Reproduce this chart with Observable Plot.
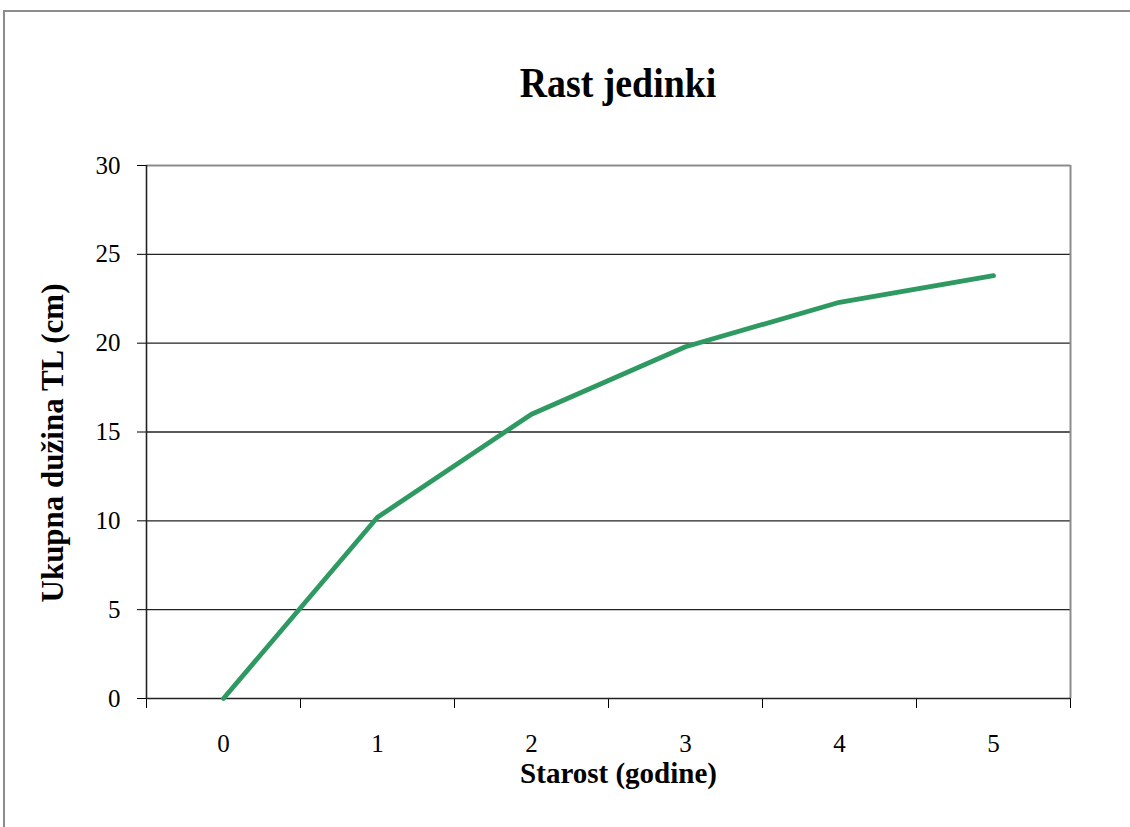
<!DOCTYPE html>
<html>
<head>
<meta charset="utf-8">
<script src="https://cdn.jsdelivr.net/npm/d3@7"></script>
<script src="https://cdn.jsdelivr.net/npm/@observablehq/plot@0.6"></script>
<style>
  html, body { margin: 0; padding: 0; background: #fff; }
  #wrap { position: relative; width: 1130px; height: 827px; overflow: hidden; }
  #frame { position: absolute; left: 3px; top: 10px; width: 1200px; height: 900px; border: 2px solid #8c8c8c; box-sizing: border-box; }
  #title { position: absolute; left: 0; top: 62px; width: 1236px; text-align: center;
           font-family: "Liberation Serif", "Times New Roman", serif; font-weight: bold; font-size: 42px; line-height: 42px; color: #000;
           transform: scaleX(0.9); transform-origin: 618px 0; }
  #chart { position: absolute; left: 0; top: 0; }
</style>
</head>
<body>
<div id="wrap">
  <div id="frame"></div>
  <div id="title">Rast jedinki</div>
  <div id="chart"></div>
</div>
<script>
const ages = [0, 1, 2, 3, 4, 5];
const lengths = [0, 10.2, 16.0, 19.8, 22.3, 23.8];
const yTicks = [0, 5, 10, 15, 20, 25, 30];
const gridValues = [5, 10, 15, 20, 25];
const bandEdges = [-0.5, 0.5, 1.5, 2.5, 3.5, 4.5, 5.5];
const xTitle = "Starost (godine)";
const yTitle = "Ukupna dužina TL (cm)";

const data = ages.map((a, i) => ({age: a, len: lengths[i]}));
const serif = "'Liberation Serif', 'Times New Roman', serif";

const chart = Plot.plot({
  width: 1130,
  height: 827,
  marginLeft: 146,
  marginRight: 60,
  marginTop: 165,
  marginBottom: 129,
  style: {fontFamily: serif, fontSize: "25px", color: "#000", background: "transparent", overflow: "visible"},
  x: {domain: [-0.5, 5.5], ticks: bandEdges, tickFormat: () => "", tickSize: 10, label: null},
  y: {domain: [0, 30], ticks: yTicks, tickSize: 9, tickPadding: 17, label: null},
  marks: [
    Plot.ruleY(gridValues, {stroke: "#222", strokeWidth: 1.4}),
    Plot.ruleY([30], {stroke: "#8c8c8c", strokeWidth: 2}),
    Plot.ruleX([5.5], {stroke: "#8c8c8c", strokeWidth: 2}),
    Plot.ruleY([0], {stroke: "#222", strokeWidth: 1.6}),
    Plot.ruleX([-0.5], {stroke: "#222", strokeWidth: 1.6}),
    Plot.text(ages, {x: d => d, y: 0, dy: 45, text: d => String(d), fontSize: 25, fontFamily: serif}),
    Plot.line(data, {x: "age", y: "len", stroke: "#2e9a62", strokeWidth: 4.8, strokeLinejoin: "round", strokeLinecap: "round"}),
    Plot.text([xTitle], {frameAnchor: "bottom", dy: 84, dx: 10, text: d => d, fontSize: 29, fontWeight: "bold", fontFamily: serif}),
    Plot.text([yTitle], {frameAnchor: "left", textAnchor: "middle", dx: -93, dy: 11, rotate: -90, text: d => d, fontSize: 31, fontWeight: "bold", fontFamily: serif})
  ]
});
document.getElementById("chart").appendChild(chart);
</script>
</body>
</html>
